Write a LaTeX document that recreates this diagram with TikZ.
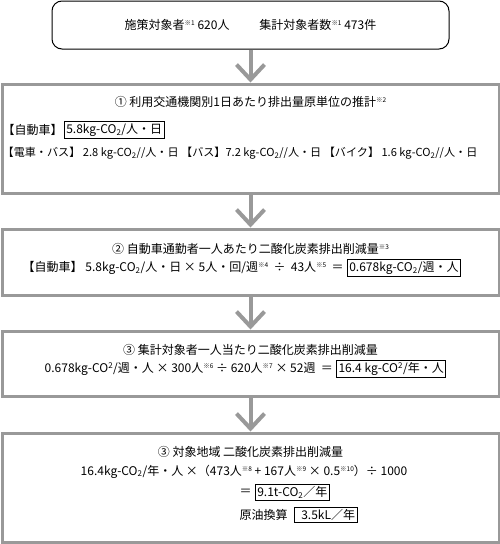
\documentclass[tikz,border=0pt]{standalone}
\usepackage{fontspec}
\setmainfont{Noto Sans CJK JP}
\usetikzlibrary{positioning, arrows.meta}

\definecolor{framegray}{HTML}{999999}
\newcommand{\kome}[1]{\raisebox{0.6ex}{\fontsize{6.5}{6.5}\selectfont ※#1}}
\newcommand{\cotwo}{CO\textsubscript{2}}

\begin{document}
\begin{tikzpicture}[
    x=1pt, y=-1pt,
    node distance=33pt and 4pt,
    stage/.style={rectangle, draw=framegray, line width=3pt, minimum width=497pt, minimum height=#1, inner sep=0pt},
    stage/.default=109pt,
    txt/.style={font=\fontsize{12}{14}\selectfont, inner sep=0pt},
    val/.style={txt, draw, line width=0.8pt, inner sep=2pt},
    flow/.style={-{Straight Barb[length=15pt, width=28pt]}, draw=framegray, line width=4pt},
]
\useasboundingbox (0,0) rectangle (500,544);

% Target group
\node[txt, draw, line width=1pt, rounded corners=10pt, minimum width=397pt, minimum height=48pt] (count) at (250.5,25)
    {施策対象者\kome{1}\ 620人\hspace{30pt}集計対象者数\kome{1}\ 473件};

% Stage boxes
\node[stage, below=of count] (unit) {};
\node[stage=66pt, below=of unit] (percar) {};
\node[stage=65pt, below=of percar] (perhead) {};
\node[stage=109.5pt, below=34pt of perhead] (region) {};

% (1) unit emissions
\node[txt] (unittitle) at ([yshift=-19.5pt]unit.north) {① 利用交通機関別1日あたり排出量原単位の推計\kome{2}};
\node[txt, anchor=west] (carlabel) at ([xshift=2pt, yshift=-47.5pt]unit.north west) {【自動車】};
\node[val, right=1pt of carlabel] (carunit) {5.8kg-\cotwo/人・日};
\node[txt, anchor=west, font=\fontsize{11.1}{14}\selectfont] (otherunits) at ([xshift=2pt, yshift=-70.5pt]unit.north west)
    {【電車・バス】 2.8 kg-\cotwo//人・日 【バス】7.2 kg-\cotwo//人・日 【バイク】 1.6 kg-\cotwo//人・日};

% (2) per car commuter
\node[txt] (cartitle) at ([yshift=-21.5pt]percar.north) {② 自動車通勤者一人あたり二酸化炭素排出削減量\kome{3}};
\node[txt, anchor=west] (carcalc) at ([xshift=22pt, yshift=-40.5pt]percar.north west)
    {【自動車】 5.8kg-\cotwo/人・日 × 5人・回/週\kome{4} \ ÷ \ 43人\kome{5} \ ＝};
\node[val, right=3pt of carcalc] (carcut) {0.678kg-\cotwo/週・人};

% (3) per counted person
\node[txt] (headtitle) at ([yshift=-20pt]perhead.north) {③ 集計対象者一人当たり二酸化炭素排出削減量};
\node[txt, anchor=west] (headcalc) at ([xshift=44pt, yshift=-39.5pt]perhead.north west)
    {0.678kg-CO\textsuperscript{2}/週・人 × 300人\kome{6} ÷ 620人\kome{7} × 52週 \ ＝};
\node[val, right=3pt of headcalc] (headcut) {16.4 kg-CO\textsuperscript{2}/年・人};

% (3) whole area
\node[txt] (regiontitle) at ([yshift=-20.5pt]region.north) {③ 対象地域 二酸化炭素排出削減量};
\node[txt, anchor=west] (regioncalc) at ([xshift=80pt, yshift=-40pt]region.north west)
    {16.4kg-\cotwo/年・人 ×（473人\kome{8} + 167人\kome{9} × 0.5\kome{10}）÷ 1000};
\node[txt, anchor=west] (eqsign) at ([xshift=239pt, yshift=-61pt]region.north west) {＝};
\node[val, right=3pt of eqsign] (regioncut) {9.1t-\cotwo／年};
\node[txt, anchor=west] (oillabel) at ([xshift=239pt, yshift=-83pt]region.north west) {原油換算};
\node[val, right=6pt of oillabel] (oil) {\hspace{5pt}3.5kL／年};

% Arrows
\draw[flow] (count) -- (unit);
\draw[flow] (unit) -- (percar);
\draw[flow] (percar) -- (perhead);
\draw[flow] (perhead) -- (region);

\end{tikzpicture}
\end{document}
